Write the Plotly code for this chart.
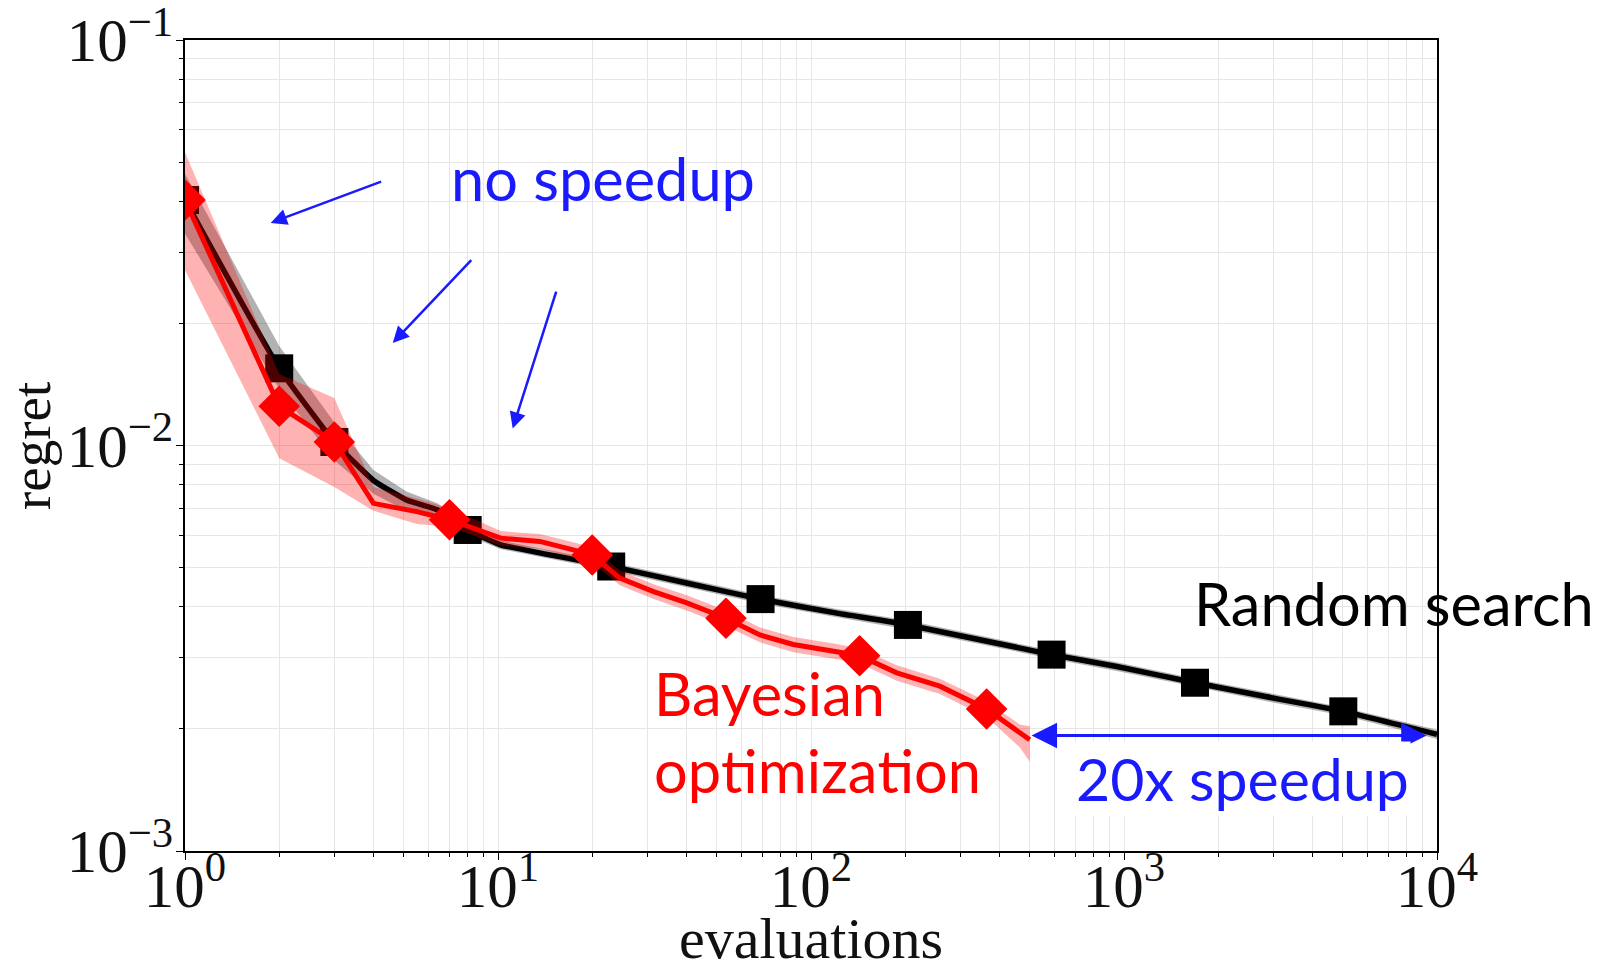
import math
import plotly.graph_objects as go

# ---- Random search (black) ----
rs_x = [1, 2, 3, 4, 5.1, 6.4, 8, 10.2, 23, 40, 69, 121, 204, 587, 948, 1686, 2857, 5020, 10000]
rs_mean = [0.0403, 0.0155, 0.0102, 0.0082, 0.00734, 0.00694, 0.00619, 0.00569, 0.00503, 0.00458,
           0.00418, 0.00386, 0.00361, 0.00305, 0.00285, 0.0026, 0.0024, 0.00221, 0.00194]
rs_upper = [0.0468, 0.0176, 0.0114, 0.0087, 0.0077, 0.0072, 0.0064, 0.00583, 0.00515, 0.00469,
            0.00428, 0.00395, 0.0037, 0.00312, 0.00292, 0.00266, 0.00246, 0.00226, 0.00199]
rs_lower = [0.0333, 0.0138, 0.0092, 0.0076, 0.0069, 0.0067, 0.0060, 0.00555, 0.00491, 0.00447,
            0.00408, 0.00377, 0.00352, 0.00298, 0.00278, 0.00254, 0.00234, 0.00216, 0.00189]
rs_marker_idx = [0, 1, 2, 6, 8, 10, 12, 13, 15, 17]

# ---- Bayesian optimization (red) ----
bo_x = [1, 2, 3, 4, 5.5, 7, 10.2, 13.6, 17.4, 20, 24.5, 31.4, 40.1, 53.5, 68.7, 87.8, 120.8,
        143, 188, 258, 364, 465, 500]
bo_mean = [0.0403, 0.0125, 0.0102, 0.0072, 0.00687, 0.00656, 0.00591, 0.0058, 0.00553, 0.00537,
           0.00471, 0.00436, 0.00409, 0.00375, 0.00341, 0.00323, 0.0031, 0.00303, 0.00275,
           0.00255, 0.00224, 0.00195, 0.00188]
bo_upper = [0.0529, 0.0150, 0.0131, 0.0079, 0.0074, 0.0070, 0.00615, 0.00605, 0.00577, 0.0056,
            0.00492, 0.00455, 0.00427, 0.00392, 0.00356, 0.00337, 0.00324, 0.00316, 0.00287,
            0.00266, 0.00234, 0.00205, 0.00203]
bo_lower = [0.0271, 0.0093, 0.0079, 0.0069, 0.0064, 0.0063, 0.00567, 0.00556, 0.00530, 0.00515,
            0.00452, 0.00418, 0.00392, 0.00359, 0.00327, 0.00309, 0.00297, 0.0029, 0.00263,
            0.00244, 0.00214, 0.00180, 0.00166]
bo_marker_idx = [0, 1, 2, 5, 9, 13, 17, 20]

# ---- annotation arrows: (head_x, head_y, tail_x, tail_y) in data units ----
no_speedup_arrows = [
    (1.878, 0.0354, 4.28, 0.0449),
    (4.61, 0.0179, 8.30, 0.0289),
    (11.14, 0.01102, 15.40, 0.02415),
]
speedup_start, speedup_end, speedup_level = 501, 9270, 0.001926

x_tick_vals = [1, 10, 100, 1000, 10000]
x_tick_text = ["10<sup>0</sup>", "10<sup>1</sup>", "10<sup>2</sup>", "10<sup>3</sup>", "10<sup>4</sup>"]
y_tick_vals = [0.001, 0.01, 0.1]
y_tick_text = ["10<sup>\u22123</sup>", "10<sup>\u22122</sup>", "10<sup>\u22121</sup>"]

RED = "#ff0000"
BLUE = "#1a1aff"
SERIF = "Liberation Serif, DejaVu Serif, serif"
SANS = "Lato, Carlito, Open Sans, sans-serif"
TXT = "#111111"


def band(xs, lo, hi, color):
    return go.Scatter(x=list(xs) + list(xs[::-1]), y=list(hi) + list(lo[::-1]),
                      fill="toself", fillcolor=color, line=dict(width=0),
                      mode="lines", hoverinfo="skip", showlegend=False)


fig = go.Figure()
fig.add_trace(band(rs_x, rs_lower, rs_upper, "rgba(0,0,0,0.3)"))
fig.add_trace(go.Scatter(x=rs_x, y=rs_mean, mode="lines",
                         line=dict(color="black", width=5.5, shape="spline", smoothing=0.4),
                         showlegend=False))
fig.add_trace(go.Scatter(x=[rs_x[i] for i in rs_marker_idx], y=[rs_mean[i] for i in rs_marker_idx],
                         mode="markers", marker=dict(symbol="square", size=28, color="black"),
                         showlegend=False))
fig.add_trace(band(bo_x, bo_lower, bo_upper, "rgba(255,0,0,0.3)"))
fig.add_trace(go.Scatter(x=bo_x, y=bo_mean, mode="lines", line=dict(color=RED, width=5),
                         showlegend=False))
fig.add_trace(go.Scatter(x=[bo_x[i] for i in bo_marker_idx], y=[bo_mean[i] for i in bo_marker_idx],
                         mode="markers", marker=dict(symbol="diamond", size=32, color=RED),
                         showlegend=False))

minor_x = [m * 10 ** k for k in range(0, 4) for m in range(2, 10)]
minor_y = [m * 10 ** k for k in range(-3, -1) for m in range(2, 10)]
grid_col = "#e6e6e6"

axis_common = dict(type="log", tickmode="array", showgrid=True, gridcolor=grid_col, gridwidth=1.2,
                   showline=True, linecolor="black", linewidth=1.5, mirror=True,
                   ticks="outside", ticklen=7, tickcolor="black", zeroline=False, automargin=False,
                   ticklabeloverflow="allow",
                   tickfont=dict(family=SERIF, size=61, color=TXT))
minor_common = dict(tickmode="array", showgrid=True, gridcolor=grid_col, gridwidth=1.2,
                    ticks="outside", ticklen=4, tickcolor="black")

fig.update_xaxes(range=[0, 4], tickvals=x_tick_vals, ticktext=x_tick_text, ticklabelstandoff=-26,
                 minor=dict(tickvals=minor_x, **minor_common), **axis_common)
fig.update_yaxes(range=[-3, -1], tickvals=y_tick_vals, ticktext=y_tick_text, ticklabelstandoff=-9,
                 minor=dict(tickvals=minor_y, **minor_common), **axis_common)

annotations = []
for hx, hy, tx, ty in no_speedup_arrows:
    annotations.append(dict(x=math.log10(hx), y=math.log10(hy), ax=math.log10(tx), ay=math.log10(ty),
                            xref="x", yref="y", axref="x", ayref="y", text="", showarrow=True,
                            arrowhead=2, arrowsize=1.3, arrowwidth=2.5, arrowcolor=BLUE))
annotations.append(dict(x=math.log10(speedup_end), y=math.log10(speedup_level),
                        ax=math.log10(speedup_start), ay=math.log10(speedup_level),
                        xref="x", yref="y", axref="x", ayref="y", text="", showarrow=True,
                        arrowhead=2, startarrowhead=2, arrowside="end+start", arrowsize=1.7,
                        startarrowsize=1.7, arrowwidth=3, arrowcolor=BLUE))

annotations += [
    dict(text="no speedup", x=603, y=178, showarrow=False,
         font=dict(family=SANS, size=59.5, color=BLUE), xanchor="center", yanchor="middle"),
    dict(text="Bayesian<br>op\u200cti\u200cmiza\u200ction", x=652, y=731, showarrow=False,
         align="left", font=dict(family=SANS, size=59.5, color=RED),
         xanchor="left", yanchor="middle"),
    dict(text="20x speedup", x=1242, y=778, showarrow=False, bgcolor="white",
         font=dict(family=SANS, size=59, color=BLUE), xanchor="center", yanchor="middle"),
    dict(text="Random search", x=1192, y=603, showarrow=False,
         font=dict(family=SANS, size=59.5, color="black"), xanchor="left", yanchor="middle"),
    dict(text="evaluations", x=811, y=938, showarrow=False,
         font=dict(family=SERIF, size=58, color=TXT), xanchor="center", yanchor="middle"),
    dict(text="regret", x=31, y=446, showarrow=False, textangle=-90,
         font=dict(family=SERIF, size=55, color=TXT), xanchor="center", yanchor="middle"),
]

# Text labels are positioned in page pixels; convert to paper fractions.
W, H = 1608, 967
L, R, T, B = 185, 171, 40, 116
pw, ph = W - L - R, H - T - B
for a in annotations:
    if a.get("xref") == "x":
        continue
    a["xref"], a["yref"] = "paper", "paper"
    a["x"] = (a["x"] - L) / pw
    a["y"] = 1 - (a["y"] - T) / ph

fig.update_layout(width=W, height=H, margin=dict(l=L, r=R, t=T, b=B, pad=0),
                  plot_bgcolor="white", paper_bgcolor="white", annotations=annotations,
                  showlegend=False)

fig.write_html("out.html")
